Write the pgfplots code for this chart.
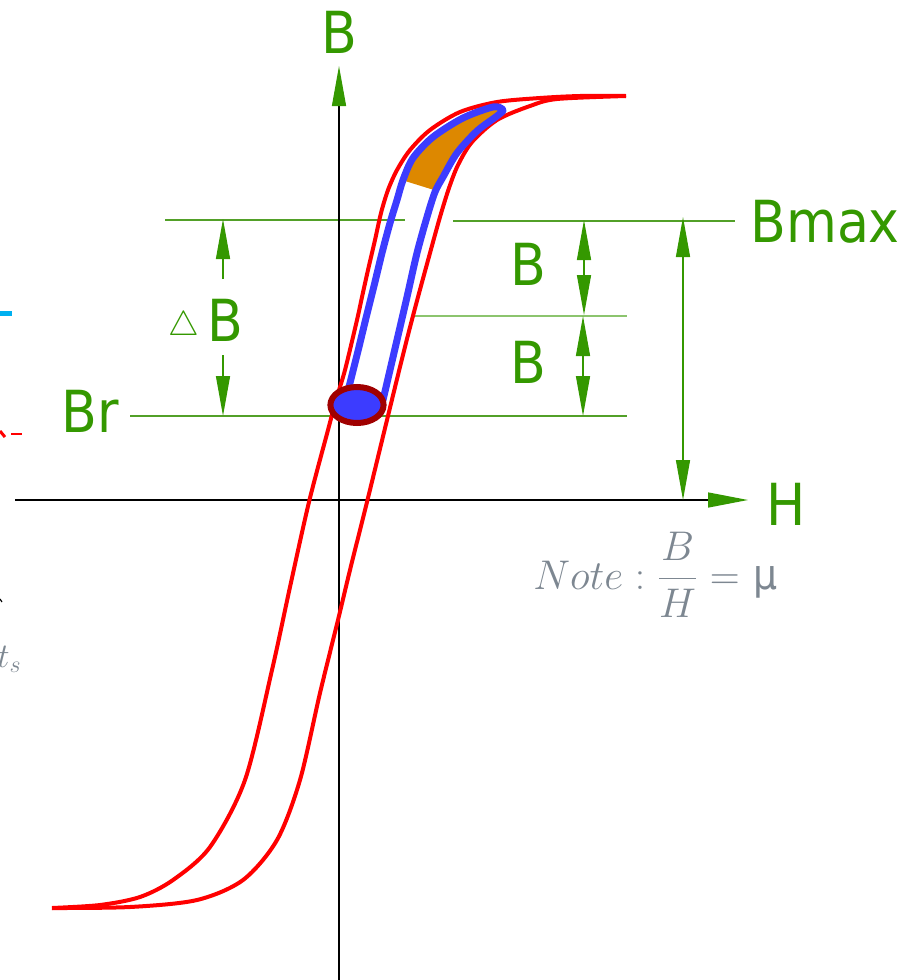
\documentclass[border=0pt]{standalone}
\usepackage{pgfplots}
\pgfplotsset{compat=1.18}
\usepackage{fontspec}
\setmainfont{DejaVu Sans Condensed}
\usetikzlibrary{arrows.meta}

\definecolor{labgreen}{RGB}{52,152,0}
\definecolor{linegreen}{RGB}{82,160,40}
\definecolor{palegreen}{RGB}{140,196,110}
\definecolor{loopred}{RGB}{255,0,0}
\definecolor{minorblue}{RGB}{60,60,255}
\definecolor{fillorange}{RGB}{221,136,0}
\definecolor{darkred}{RGB}{160,0,0}
\definecolor{notegray}{RGB}{125,135,145}
\definecolor{cyanbit}{RGB}{0,176,240}

\newcommand\lab{\fontsize{29}{32}\selectfont}
\tikzset{
  dim/.style={draw=labgreen, line width=0.7pt},
  tip/.style={-{Triangle[length=20pt,width=7pt,color=labgreen]}},
}

\begin{document}
\begin{tikzpicture}
\begin{axis}[
  scale only axis, width=461pt, height=490pt,
  xmin=0, xmax=922, ymin=0, ymax=980, y dir=reverse,
  hide axis, clip=false,
]
\coordinate (bbA) at (axis cs:0,0);
\coordinate (bbB) at (axis cs:922,980);

% thin green reference lines
\addplot[linegreen, line width=0.6pt] coordinates {(165,220) (405,220)};
\addplot[linegreen, line width=0.6pt] coordinates {(453,221) (735,221)};
\addplot[palegreen, line width=0.8pt] coordinates {(412,316) (627,316)};
\addplot[linegreen, line width=0.6pt] coordinates {(130,416) (627,416)};

% H and B axes
\draw[black, line width=0.7pt, -{Triangle[length=20pt,width=7pt,color=labgreen]}]
  (axis cs:339,980) -- (axis cs:339,66);
\draw[black, line width=0.7pt, -{Triangle[length=20pt,width=7.5pt,color=labgreen]}]
  (axis cs:15,500) -- (axis cs:748,500);

% major hysteresis loop
\addplot[loopred, line width=2pt, smooth, tension=0.5] coordinates {
(626,96) (580,96) (540,98) (497,102) (460,112) (430,130) (410,150)
(397,170) (388,190) (381,213) (375,240) (368,270) (362,297) (357,320)
(345,370) (336,400) (328,430) (309,502) (290,587) (272,670)
(245,780) (210,847) (173,880) (140,897) (100,905) (52,908)
};
\addplot[loopred, line width=2pt, smooth, tension=0.5] coordinates {
(52,908) (130,907) (197,900) (243,880) (277,840) (300,780) (320,693)
(338,620) (350,570) (367,502) (387,420) (398,375) (408,335) (418,297)
(430,253) (440,217) (449,188) (458,165) (472,142) (497,120) (530,106)
(557,99) (626,96)
};

% orange area at the tip of the minor loop
\addplot[fill=fillorange, draw=none] coordinates {
(405,181) (413,158) (433,137) (463,118) (493,107) (503,110)
(497,116) (477,131) (457,153) (443,177) (434,190)
} -- cycle;

% minor loop
\addplot[minorblue, line width=3.5pt, smooth, tension=0.5, line cap=round, line join=round] coordinates {
(346,400) (350,383) (358,351) (366,318) (374,286) (382,253) (390,223)
(397,200) (403,180) (413,158) (433,137) (463,118) (493,107) (503,110)
(497,116) (477,131) (457,153) (443,177) (435,192) (427,217) (417,253)
(407,297) (397,340) (390,370) (383,400)
};
\draw[darkred, line width=3pt, fill=minorblue] (axis cs:357,405) ellipse [x radius=13.3pt, y radius=9pt];

% dimension arrows
\draw[dim, tip] (axis cs:223,279) -- (axis cs:223,219);
\draw[dim, tip] (axis cs:223,355) -- (axis cs:223,416);
\draw[dim, tip] (axis cs:584,268) -- (axis cs:584,220);
\draw[dim, tip] (axis cs:584,268) -- (axis cs:584,315);
\draw[dim, tip] (axis cs:583,366) -- (axis cs:583,316);
\draw[dim, tip] (axis cs:583,366) -- (axis cs:583,416);
\draw[dim, {Triangle[length=20pt,width=7pt,color=labgreen]}-{Triangle[length=20pt,width=7pt,color=labgreen]}]
  (axis cs:683,217) -- (axis cs:683,500);

% labels
\node[labgreen, inner sep=0, anchor=base, font=\lab] at (axis cs:339,53) {B};
\node[labgreen, inner sep=0, anchor=base, font=\lab] at (axis cs:786,525) {H};
\node[labgreen, inner sep=0, anchor=base west, font=\lab] at (axis cs:750,242) {Bmax};
\node[labgreen, inner sep=0, anchor=base west, font=\lab] at (axis cs:61,432) {Br};
\node[labgreen, inner sep=0, anchor=base, font=\lab] at (axis cs:528,285) {B};
\node[labgreen, inner sep=0, anchor=base, font=\lab] at (axis cs:528,383) {B};
\node[labgreen, inner sep=0, anchor=base, font=\lab] at (axis cs:225,341) {B};
\node[labgreen, inner sep=0, anchor=base west, font=\fontsize{17}{18}\selectfont] at (axis cs:168,335) {$\triangle$};

\node[notegray, inner sep=0, anchor=base west, font=\fontsize{21}{24}\selectfont]
  at (axis cs:533,589) {$\displaystyle Note:\frac{B}{H}=\,$\,μ};

% fragments cut by the left edge
\addplot[cyanbit, line width=2.5pt] coordinates {(0,313) (12,313)};
\addplot[loopred, line width=1.5pt] coordinates {(0,431) (5,437)};
\addplot[loopred, line width=1pt] coordinates {(11,434) (22,434)};
\addplot[black, line width=0.6pt] coordinates {(0,599) (2,602)};
\node[notegray, inner sep=0, anchor=base west, font=\fontsize{18}{20}\selectfont] at (axis cs:-3,667) {$t_s$};
\end{axis}
\pgfresetboundingbox
\path[use as bounding box] (bbA) rectangle (bbB);
\end{tikzpicture}
\end{document}
